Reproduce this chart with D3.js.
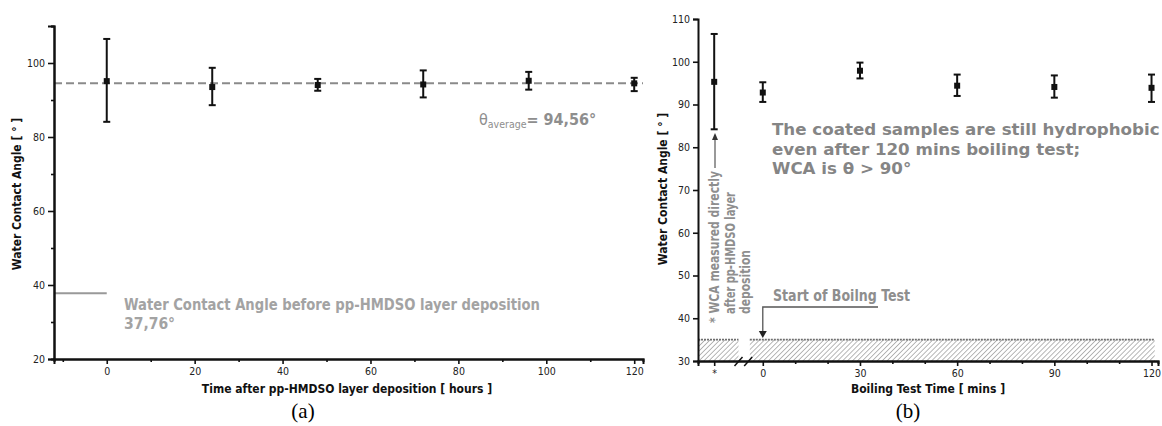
<!DOCTYPE html>
<html><head><meta charset="utf-8">
<script src="https://cdn.jsdelivr.net/npm/d3@7"></script>
<style>
body{margin:0;background:#fff;}
svg{display:block;}
.tick text{font-family:"DejaVu Sans Condensed","DejaVu Sans",sans-serif;font-size:10.5px;fill:#222;}
</style></head>
<body>
<script>
// ---------- DATA ----------
// Panel (a): WCA vs time after pp-HMDSO deposition
const hoursA = [0, 24, 48, 72, 96, 120];
const meanA  = [95.1, 93.5, 94.05, 94.2, 95.2, 94.5];
const upperA = [106.5, 98.7, 95.7, 98.0, 97.6, 96.0];
const lowerA = [84.1, 88.6, 92.5, 90.7, 92.8, 92.4];
const averageA = 94.56;
const beforeA = 37.76;
const xTicksA = [0, 20, 40, 60, 80, 100, 120];
const xMinorA = [-10, 10, 30, 50, 70, 90, 110];
const yTicksA = [20, 40, 60, 80, 100];
const yMinorA = [30, 50, 70, 90, 110];

// Panel (b): WCA vs boiling test time ("*" = directly after deposition)
const timeB  = [-15, 0, 30, 60, 90, 120];
const meanB  = [95.3, 92.8, 97.9, 94.4, 94.1, 93.9];
const upperB = [106.5, 95.2, 99.8, 97.0, 96.8, 97.0];
const lowerB = [84.2, 90.6, 96.1, 92.0, 91.6, 90.6];
const xTicksB = [-15, 0, 30, 60, 90, 120];
const xTickLabelsB = ["*", "0", "30", "60", "90", "120"];
const xMinorB = [10, 20, 40, 50, 70, 80, 100, 110];
const yTicksB = [30, 40, 50, 60, 70, 80, 90, 100, 110];
const hatchTopB = 35;

// ---------- DRAW ----------
const W = 1162, H = 426;
const svg = d3.select("body").append("svg").attr("width", W).attr("height", H);
const FONT = '"DejaVu Sans Condensed","DejaVu Sans",sans-serif';
const FONTW = '"DejaVu Sans",sans-serif';
const GRAY = "#8e8e8e";

const defs = svg.append("defs");
const pat = defs.append("pattern").attr("id","hatch").attr("patternUnits","userSpaceOnUse")
  .attr("width",3.5).attr("height",3.5).attr("patternTransform","rotate(45)");
pat.append("line").attr("x1",0).attr("y1",0).attr("x2",0).attr("y2",3.5)
  .attr("stroke","#888").attr("stroke-width",1.2);

function styleAxis(g){
  g.select(".domain").attr("stroke","#111").attr("stroke-width",2);
  g.selectAll(".tick line").attr("stroke","#111").attr("stroke-width",1.6);
}

function errorBars(g, x, y, xs, m, up, lo, cap){
  const grp = g.append("g");
  xs.forEach((d,i)=>{
    const cx = x(d);
    grp.append("line").attr("x1",cx).attr("x2",cx).attr("y1",y(up[i])).attr("y2",y(lo[i]))
      .attr("stroke","#111").attr("stroke-width",2);
    [up[i], lo[i]].forEach(v=>{
      grp.append("line").attr("x1",cx-cap).attr("x2",cx+cap).attr("y1",y(v)).attr("y2",y(v))
        .attr("stroke","#111").attr("stroke-width",2);
    });
    grp.append("rect").attr("x",cx-3).attr("y",y(m[i])-3).attr("width",6).attr("height",6).attr("fill","#111");
  });
}

// ===== Panel (a) =====
const xA = d3.scaleLinear().domain([-12, 122]).range([54, 643]);
const yA = d3.scaleLinear().domain([20, 110]).range([359, 26]);
const gA = svg.append("g");

gA.append("line").attr("x1",xA(-12)).attr("x2",xA(122)).attr("y1",yA(averageA)).attr("y2",yA(averageA))
  .attr("stroke","#8a8a8a").attr("stroke-width",2).attr("stroke-dasharray","8,4");
gA.append("line").attr("x1",xA(-12)).attr("x2",xA(0)).attr("y1",yA(beforeA)).attr("y2",yA(beforeA))
  .attr("stroke","#999").attr("stroke-width",2);

const axXA = gA.append("g").attr("transform",`translate(0,${yA(20)})`)
  .call(d3.axisBottom(xA).tickValues(xTicksA).tickSize(5).tickPadding(4).tickFormat(d3.format("d")));
styleAxis(axXA);
const axXAm = gA.append("g").attr("transform",`translate(0,${yA(20)})`)
  .call(d3.axisBottom(xA).tickValues(xMinorA).tickSize(3).tickFormat(""));
styleAxis(axXAm);
const axYA = gA.append("g").attr("transform",`translate(${xA(-12)},0)`)
  .call(d3.axisLeft(yA).tickValues(yTicksA).tickSize(6).tickPadding(3).tickFormat(d3.format("d")));
styleAxis(axYA);
const axYAm = gA.append("g").attr("transform",`translate(${xA(-12)},0)`)
  .call(d3.axisLeft(yA).tickValues(yMinorA).tickSize(3).tickFormat(""));
styleAxis(axYAm);

errorBars(gA, xA, yA, hoursA, meanA, upperA, lowerA, 3.5);

const tA1 = gA.append("text").attr("x",124).attr("y",310).attr("font-family",FONT).attr("font-weight","bold")
  .attr("font-size",15.5).attr("fill","#a3a3a3").text("Water Contact Angle before pp-HMDSO layer deposition");
tA1.attr("textLength",416).attr("lengthAdjust","spacingAndGlyphs");
gA.append("text").attr("x",124).attr("y",329).attr("font-family",FONT).attr("font-weight","bold")
  .attr("font-size",15.5).attr("fill","#a3a3a3").text(beforeA.toFixed(2).replace(".",",") + "°");
const th = gA.append("text").attr("x",479).attr("y",125).attr("font-family",FONT).attr("font-weight","bold")
  .attr("font-size",16).attr("fill",GRAY);
th.append("tspan").attr("font-weight","normal").text("θ");
th.append("tspan").attr("font-size",10.5).attr("font-weight","normal").attr("dy",3).text("average");
th.append("tspan").attr("dy",-3).text("= " + averageA.toFixed(2).replace(".",",") + "°");

gA.append("text").attr("transform",`translate(21,194) rotate(-90)`).attr("text-anchor","middle")
  .attr("font-family",FONT).attr("font-weight","bold").attr("font-size",12).attr("fill","#111")
  .text("Water Contact Angle [ ° ]");
gA.append("text").attr("x",347).attr("y",393).attr("text-anchor","middle")
  .attr("font-family",FONT).attr("font-weight","bold").attr("font-size",12).attr("fill","#111")
  .text("Time after pp-HMDSO layer deposition [ hours ]");
svg.append("text").attr("x",303).attr("y",418).attr("text-anchor","middle")
  .attr("font-family","Liberation Serif, serif").attr("font-size",21).attr("fill","#000").text("(a)");

// ===== Panel (b) =====
const xB = d3.scaleLinear().domain([-20, 122]).range([698, 1158]);
const yB = d3.scaleLinear().domain([30, 110]).range([361, 19]);
const gB = svg.append("g");

const hatchParts = [[-20, -7.5], [-4, 121]];
hatchParts.forEach(p=>{
  gB.append("rect").attr("x",xB(p[0])).attr("y",yB(hatchTopB)).attr("width",xB(p[1])-xB(p[0]))
    .attr("height",yB(30)-yB(hatchTopB)).attr("fill","url(#hatch)");
  gB.append("line").attr("x1",xB(p[0])).attr("x2",xB(p[1])).attr("y1",yB(hatchTopB)).attr("y2",yB(hatchTopB))
    .attr("stroke","#6f6f6f").attr("stroke-width",1.6).attr("stroke-dasharray","2,1");
});

const axXB = gB.append("g").attr("transform",`translate(0,${yB(30)})`)
  .call(d3.axisBottom(xB).tickValues(xTicksB).tickSize(5).tickPadding(4)
    .tickFormat((d,i)=>xTickLabelsB[i]));
styleAxis(axXB);
const axXBm = gB.append("g").attr("transform",`translate(0,${yB(30)})`)
  .call(d3.axisBottom(xB).tickValues(xMinorB).tickSize(3).tickFormat(""));
styleAxis(axXBm);
const axYB = gB.append("g").attr("transform",`translate(${xB(-20)},0)`)
  .call(d3.axisLeft(yB).tickValues(yTicksB).tickSize(5).tickPadding(3).tickFormat(d3.format("d")));
styleAxis(axYB);

[-7.5, -4.5].forEach(v=>{
  gB.append("line").attr("x1",xB(v)-4).attr("y1",yB(30)+5).attr("x2",xB(v)+4).attr("y2",yB(30)-4)
    .attr("stroke","#111").attr("stroke-width",1.5);
});

errorBars(gB, xB, yB, timeB, meanB, upperB, lowerB, 3.5);

const noteLines = [["* WCA measured directly", 719, 323, 152], ["after pp-HMDSO layer", 735, 314, 122], ["deposition", 750, 314, 64]];
noteLines.forEach(l=>{
  gB.append("text").attr("transform",`translate(${l[1]},${l[2]}) rotate(-90)`)
    .attr("font-family",FONT).attr("font-weight","bold").attr("font-size",13.5).attr("fill",GRAY)
    .attr("textLength",l[3]).attr("lengthAdjust","spacingAndGlyphs").text(l[0]);
});
gB.append("line").attr("x1",715).attr("x2",715).attr("y1",168).attr("y2",139).attr("stroke","#555").attr("stroke-width",1.2);
gB.append("path").attr("d","M712,140 L715,133 L718,140 Z").attr("fill","#333");

gB.append("text").attr("x",773).attr("y",301).attr("font-family",FONT).attr("font-weight","bold")
  .attr("font-size",16.5).attr("fill",GRAY).attr("textLength",137).attr("lengthAdjust","spacingAndGlyphs")
  .text("Start of Boilng Test");
gB.append("polyline").attr("points",`878,307 ${xB(0)},307 ${xB(0)},333`).attr("fill","none")
  .attr("stroke","#555").attr("stroke-width",1.3);
gB.append("path").attr("d",`M${xB(0)-4},331 L${xB(0)},338 L${xB(0)+4},331 Z`).attr("fill","#222");

const noteB = ["The coated samples are still hydrophobic", "even after 120 mins boiling test;", "WCA is θ > 90°"];
const noteY = [135, 155, 174];
const gn = gB.append("g");
const noteTexts = noteB.map((t,i)=> gn.append("text").attr("x",0).attr("y",noteY[i]).attr("font-family",FONTW)
    .attr("font-weight","bold").attr("font-size",16).attr("fill","#858585").text(t));
const natural = noteTexts[0].node().getComputedTextLength();
gn.attr("transform",`translate(772,0) scale(${388/natural},1)`);

gB.append("text").attr("transform",`translate(667,189) rotate(-90)`).attr("text-anchor","middle")
  .attr("font-family",FONT).attr("font-weight","bold").attr("font-size",12).attr("fill","#111")
  .text("Water Contact Angle [ ° ]");
gB.append("text").attr("x",928).attr("y",393).attr("text-anchor","middle")
  .attr("font-family",FONT).attr("font-weight","bold").attr("font-size",12).attr("fill","#111")
  .text("Boiling Test Time [ mins ]");
svg.append("text").attr("x",908).attr("y",418).attr("text-anchor","middle")
  .attr("font-family","Liberation Serif, serif").attr("font-size",21).attr("fill","#000").text("(b)");
</script>
</body></html>
